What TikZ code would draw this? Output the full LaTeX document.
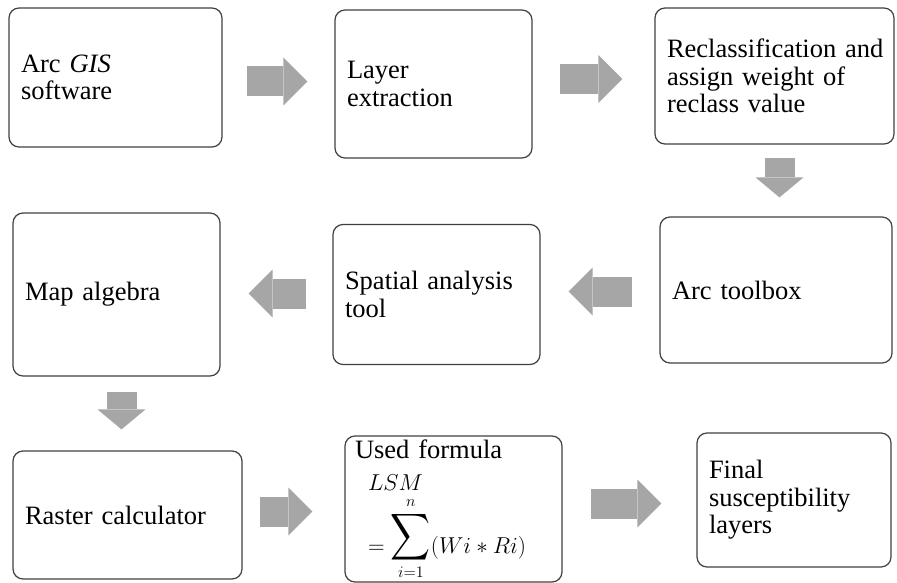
\RequirePackage{fix-cm}
\documentclass[tikz,border=0pt]{standalone}
\usepackage{exscale}
\usepackage{graphicx}
\usepackage{fontspec}
\setmainfont{Liberation Serif}
\usetikzlibrary{arrows.meta}

\definecolor{flowgray}{HTML}{A6A6A6}
\definecolor{boxline}{HTML}{404040}

\tikzset{
  stage/.style={draw=boxline, line width=1.2pt, rounded corners=10pt, align=left,
    inner xsep=12pt, inner ysep=0pt, font=\fontsize{26.5}{27.5}\selectfont},
  flow/.style={draw=flowgray, line width=30pt, line cap=butt,
    -{Triangle[length=24pt,width=48pt,line width=0pt]}},
}
\newcommand{\bigsigma}{\mathop{\raisebox{-10pt}{\resizebox{40pt}{52pt}{\raisebox{\depth}{$\displaystyle\sum$}}}}\limits}
\newcommand{\formulasize}{\fontsize{23}{27}\selectfont}

\begin{document}
\begin{tikzpicture}[x=1pt,y=-1pt]
\useasboundingbox (0,0) rectangle (897,583);

% first row
\node[stage, text width=189pt, minimum height=139pt] (gis) at (115.5,77.5) {Arc \textit{GIS}\\software};
\node[stage, text width=173pt, minimum height=148pt] (layer) at (433.5,84) {Layer\\extraction};
\node[stage, text width=215pt, minimum height=136pt] (reclass) at (774.5,76) {Reclassification~and\\assign weight of\\reclass value};

% second row
\node[stage, text width=183pt, minimum height=163pt] (mapalg) at (116.5,294.5) {Map algebra};
\node[stage, text width=183pt, minimum height=140pt] (spatial) at (436.5,294.5) {Spatial analysis\\tool};
\node[stage, text width=208pt, minimum height=146pt] (toolbox) at (776,290) {Arc toolbox};

% third row
\node[stage, text width=205pt, minimum height=128pt] (raster) at (127.5,515) {Raster calculator};
\node[stage, inner xsep=10pt, text width=197pt, text height=22pt, text depth=124pt] (formula) at (453.5,509)
  {Used formula\\[5pt]
   \hspace*{13pt}{\formulasize$LSM$}\\[35pt]
   \hspace*{13pt}\smash{\formulasize$= \bigsigma_{i=1}^{n}(Wi * Ri)$}};
\node[stage, text width=170pt, minimum height=134pt] (final) at (794,500) {Final\\susceptibility\\layers};

% block arrows
\draw[flow, shorten <=24pt, shorten >=27pt] ([yshift=-4pt]gis.east) -- ([yshift=-4pt]gis.east -| layer.west);
\draw[flow, shorten <=27pt, shorten >=32pt] ([yshift=5pt]layer.east) -- ([yshift=5pt]layer.east -| reclass.west);
\draw[flow, shorten <=13pt, shorten >=19pt, -{Triangle[length=20pt,width=48pt,line width=0pt]}] ([xshift=5pt]reclass.south) -- ([xshift=5pt]reclass.south |- toolbox.north);
\draw[flow, shorten <=27pt, shorten >=28pt] ([yshift=-1.5pt]toolbox.west) -- ([yshift=-1.5pt]toolbox.west -| spatial.east);
\draw[flow, shorten <=26pt, shorten >=28pt] ([yshift=1pt]spatial.west) -- ([yshift=1pt]spatial.west -| mapalg.east);
\draw[flow, shorten <=15pt, shorten >=21pt, -{Triangle[length=20pt,width=48pt,line width=0pt]}] ([xshift=5pt]mapalg.south) -- ([xshift=5pt]mapalg.south |- raster.north);
\draw[flow, shorten <=17pt, shorten >=32pt] ([yshift=3.5pt]raster.east) -- ([yshift=3.5pt]raster.east -| formula.west);
\draw[flow, shorten <=28pt, shorten >=35pt] ([yshift=5.5pt]formula.east) -- ([yshift=5.5pt]formula.east -| final.west);

\end{tikzpicture}
\end{document}
